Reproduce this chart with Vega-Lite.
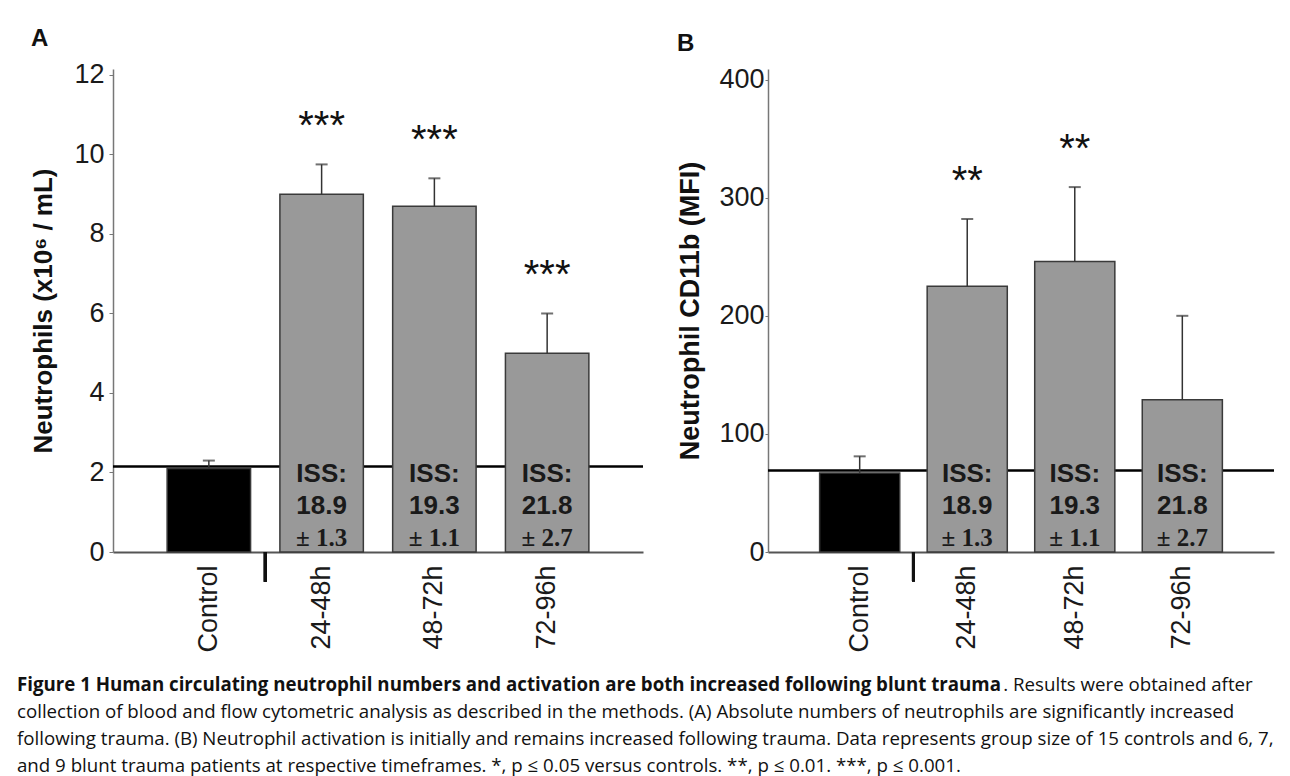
{
  "$schema": "https://vega.github.io/schema/vega-lite/v6.json",
  "background": "white",
  "padding": {"left": 16, "top": 26, "right": 8, "bottom": 0},
  "title": {
    "text": "Figure 1 Human circulating neutrophil numbers and activation are both increased following blunt trauma",
    "subtitle": [
      "\u200b\u2003\u2003\u2003\u2003\u2003\u2003\u2003\u2003\u2003\u2003\u2003\u2003\u2003\u2003\u2003\u2003\u2003\u2003\u2003\u2003\u2003\u2003\u2003\u2003\u2003\u2003\u2003\u2003\u2003\u2003\u2003\u2003\u2003\u2003\u2003\u2003\u2003\u2003\u2003\u2003\u2003\u2003\u2003\u2003\u2003\u2003\u2003\u2003\u2003\u2003\u2003\u2003\u00a0\u00a0\u00a0. Results were obtained after",
      "collection of blood and flow cytometric analysis as described in the methods. (A) Absolute numbers of neutrophils are significantly increased",
      "following trauma. (B) Neutrophil activation is initially and remains increased following trauma. Data represents group size of 15 controls and 6, 7,",
      "and 9 blunt trauma patients at respective timeframes. *, p ≤ 0.05 versus controls. **, p ≤ 0.01. ***, p ≤ 0.001."
    ],
    "orient": "bottom",
    "anchor": "start",
    "frame": "bounds",
    "offset": 24,
    "dx": -14,
    "font": "Open Sans",
    "fontSize": 18.7,
    "fontWeight": "bold",
    "color": "#111111",
    "subtitleFont": "Open Sans",
    "subtitleFontSize": 18.7,
    "subtitleFontWeight": "normal",
    "subtitleColor": "#111111",
    "subtitleLineHeight": 27,
    "subtitlePadding": -18.7
  },
  "spacing": 31,
  "hconcat": [
    {
      "width": 530,
      "height": 483,
      "title": {"text": "A", "anchor": "start", "frame": "bounds", "fontSize": 24, "fontWeight": "bold", "font": "Liberation Sans", "offset": 10, "color": "#111"},
      "data": {"values": [
        {"group": "Control", "value": 2.1, "upper": 2.3},
        {"group": "24-48h", "value": 9.0, "upper": 9.75, "stars": "***", "iss": "18.9", "sd": "± 1.3"},
        {"group": "48-72h", "value": 8.7, "upper": 9.4, "stars": "***", "iss": "19.3", "sd": "± 1.1"},
        {"group": "72-96h", "value": 5.0, "upper": 6.0, "stars": "***", "iss": "21.8", "sd": "± 2.7"}
      ]},
      "layer": [
        {
          "data": {"values": [{"ref": 2.15}]},
          "mark": {"type": "rule", "stroke": "#000", "strokeWidth": 2.5},
          "encoding": {"y": {"field": "ref", "type": "quantitative", "scale": {"domain": [0, 12.15], "nice": false}}}
        },
        {
          "mark": {"type": "bar", "stroke": "#3a3a3a", "strokeWidth": 1.5},
          "encoding": {
            "x": {"field": "group", "type": "nominal", "sort": null,
              "scale": {"domain": ["Control", "24-48h", "48-72h", "72-96h"], "paddingInner": 0.26, "paddingOuter": 0.48},
              "axis": {"title": null, "labelAngle": -90, "labelFontSize": 27, "labelPadding": 13, "ticks": false, "domainColor": "#555", "domainWidth": 2, "labelColor": "#1a1a1a"}},
            "y": {"field": "value", "type": "quantitative", "scale": {"domain": [0, 12.15], "nice": false},
              "axis": {"title": "Neutrophils (x10⁶ / mL)", "titleFontSize": 26, "titleFontWeight": "bold", "titlePadding": 17, "values": [0, 2, 4, 6, 8, 10, 12], "labelFontSize": 27, "labelPadding": 5, "tickSize": 4, "grid": false, "domainColor": "#777", "tickColor": "#777", "domainWidth": 1.5, "labelColor": "#1a1a1a", "titleColor": "#111"}},
            "color": {"condition": {"test": "datum.group === 'Control'", "value": "#000000"}, "value": "#999999"}
          }
        },
        {
          "mark": {"type": "rule", "stroke": "#333", "strokeWidth": 1.5},
          "encoding": {
            "x": {"field": "group", "type": "nominal", "sort": null},
            "y": {"field": "value", "type": "quantitative"},
            "y2": {"field": "upper"}
          }
        },
        {
          "mark": {"type": "tick", "color": "#333", "thickness": 2, "size": 12},
          "encoding": {
            "x": {"field": "group", "type": "nominal", "sort": null},
            "y": {"field": "upper", "type": "quantitative"}
          }
        },
        {
          "mark": {"type": "rule", "stroke": "#111", "strokeWidth": 3},
          "encoding": {
            "x": {"datum": "Control", "bandPosition": 1.176},
            "y": {"datum": 0},
            "y2": {"datum": -0.75}
          }
        },
        {
          "transform": [{"filter": "datum.stars"}],
          "mark": {"type": "text", "fontSize": 40, "font": "Liberation Sans", "color": "#111", "baseline": "alphabetic", "dy": -25},
          "encoding": {
            "x": {"field": "group", "type": "nominal", "sort": null},
            "y": {"field": "upper", "type": "quantitative"},
            "text": {"field": "stars"}
          }
        },
        {
          "transform": [{"filter": "datum.iss"}],
          "mark": {"type": "text", "text": "ISS:", "fontSize": 26, "fontWeight": "bold", "font": "Liberation Sans", "color": "#1a1a1a", "baseline": "alphabetic", "dy": -70},
          "encoding": {
            "x": {"field": "group", "type": "nominal", "sort": null},
            "y": {"datum": 0}
          }
        },
        {
          "transform": [{"filter": "datum.iss"}],
          "mark": {"type": "text", "fontSize": 26, "fontWeight": "bold", "font": "Liberation Sans", "color": "#1a1a1a", "baseline": "alphabetic", "dy": -38},
          "encoding": {
            "x": {"field": "group", "type": "nominal", "sort": null},
            "y": {"datum": 0},
            "text": {"field": "iss"}
          }
        },
        {
          "transform": [{"filter": "datum.iss"}],
          "mark": {"type": "text", "fontSize": 25, "fontWeight": "bold", "font": "Liberation Serif", "color": "#1a1a1a", "baseline": "alphabetic", "dy": -6},
          "encoding": {
            "x": {"field": "group", "type": "nominal", "sort": null},
            "y": {"datum": 0},
            "text": {"field": "sd"}
          }
        }
      ]
    },
    {
      "width": 506,
      "height": 483,
      "title": {"text": "B", "anchor": "start", "frame": "bounds", "fontSize": 24, "fontWeight": "bold", "font": "Liberation Sans", "offset": 10, "color": "#111"},
      "data": {"values": [
        {"group": "Control", "value": 67, "upper": 81},
        {"group": "24-48h", "value": 225, "upper": 282, "stars": "**", "iss": "18.9", "sd": "± 1.3"},
        {"group": "48-72h", "value": 246, "upper": 309, "stars": "**", "iss": "19.3", "sd": "± 1.1"},
        {"group": "72-96h", "value": 129, "upper": 200, "iss": "21.8", "sd": "± 2.7"}
      ]},
      "layer": [
        {
          "data": {"values": [{"ref": 69}]},
          "mark": {"type": "rule", "stroke": "#000", "strokeWidth": 2.5},
          "encoding": {"y": {"field": "ref", "type": "quantitative", "scale": {"domain": [0, 409], "nice": false}}}
        },
        {
          "mark": {"type": "bar", "stroke": "#3a3a3a", "strokeWidth": 1.5},
          "encoding": {
            "x": {"field": "group", "type": "nominal", "sort": null,
              "scale": {"domain": ["Control", "24-48h", "48-72h", "72-96h"], "paddingInner": 0.255, "paddingOuter": 0.48},
              "axis": {"title": null, "labelAngle": -90, "labelFontSize": 27, "labelPadding": 13, "ticks": false, "domainColor": "#555", "domainWidth": 2, "labelColor": "#1a1a1a"}},
            "y": {"field": "value", "type": "quantitative", "scale": {"domain": [0, 409], "nice": false},
              "axis": {"title": "Neutrophil CD11b (MFI)", "titleFontSize": 27, "titleFontWeight": "bold", "titlePadding": 14, "values": [0, 100, 200, 300, 400], "labelFontSize": 27, "labelPadding": 1, "tickSize": 3, "grid": false, "domainColor": "#777", "tickColor": "#777", "domainWidth": 1.5, "labelColor": "#1a1a1a", "titleColor": "#111"}},
            "color": {"condition": {"test": "datum.group === 'Control'", "value": "#000000"}, "value": "#999999"}
          }
        },
        {
          "mark": {"type": "rule", "stroke": "#333", "strokeWidth": 1.5},
          "encoding": {
            "x": {"field": "group", "type": "nominal", "sort": null},
            "y": {"field": "value", "type": "quantitative"},
            "y2": {"field": "upper"}
          }
        },
        {
          "mark": {"type": "tick", "color": "#333", "thickness": 2, "size": 12},
          "encoding": {
            "x": {"field": "group", "type": "nominal", "sort": null},
            "y": {"field": "upper", "type": "quantitative"}
          }
        },
        {
          "mark": {"type": "rule", "stroke": "#111", "strokeWidth": 3},
          "encoding": {
            "x": {"datum": "Control", "bandPosition": 1.171},
            "y": {"datum": 0},
            "y2": {"datum": -25}
          }
        },
        {
          "transform": [{"filter": "datum.stars"}],
          "mark": {"type": "text", "fontSize": 40, "font": "Liberation Sans", "color": "#111", "baseline": "alphabetic", "dy": -25},
          "encoding": {
            "x": {"field": "group", "type": "nominal", "sort": null},
            "y": {"field": "upper", "type": "quantitative"},
            "text": {"field": "stars"}
          }
        },
        {
          "transform": [{"filter": "datum.iss"}],
          "mark": {"type": "text", "text": "ISS:", "fontSize": 26, "fontWeight": "bold", "font": "Liberation Sans", "color": "#1a1a1a", "baseline": "alphabetic", "dy": -70},
          "encoding": {
            "x": {"field": "group", "type": "nominal", "sort": null},
            "y": {"datum": 0}
          }
        },
        {
          "transform": [{"filter": "datum.iss"}],
          "mark": {"type": "text", "fontSize": 26, "fontWeight": "bold", "font": "Liberation Sans", "color": "#1a1a1a", "baseline": "alphabetic", "dy": -38},
          "encoding": {
            "x": {"field": "group", "type": "nominal", "sort": null},
            "y": {"datum": 0},
            "text": {"field": "iss"}
          }
        },
        {
          "transform": [{"filter": "datum.iss"}],
          "mark": {"type": "text", "fontSize": 25, "fontWeight": "bold", "font": "Liberation Serif", "color": "#1a1a1a", "baseline": "alphabetic", "dy": -6},
          "encoding": {
            "x": {"field": "group", "type": "nominal", "sort": null},
            "y": {"datum": 0},
            "text": {"field": "sd"}
          }
        }
      ]
    }
  ],
  "config": {
    "font": "Liberation Sans",
    "view": {"stroke": null},
    "axis": {"labelFont": "Liberation Sans", "titleFont": "Liberation Sans"}
  }
}
